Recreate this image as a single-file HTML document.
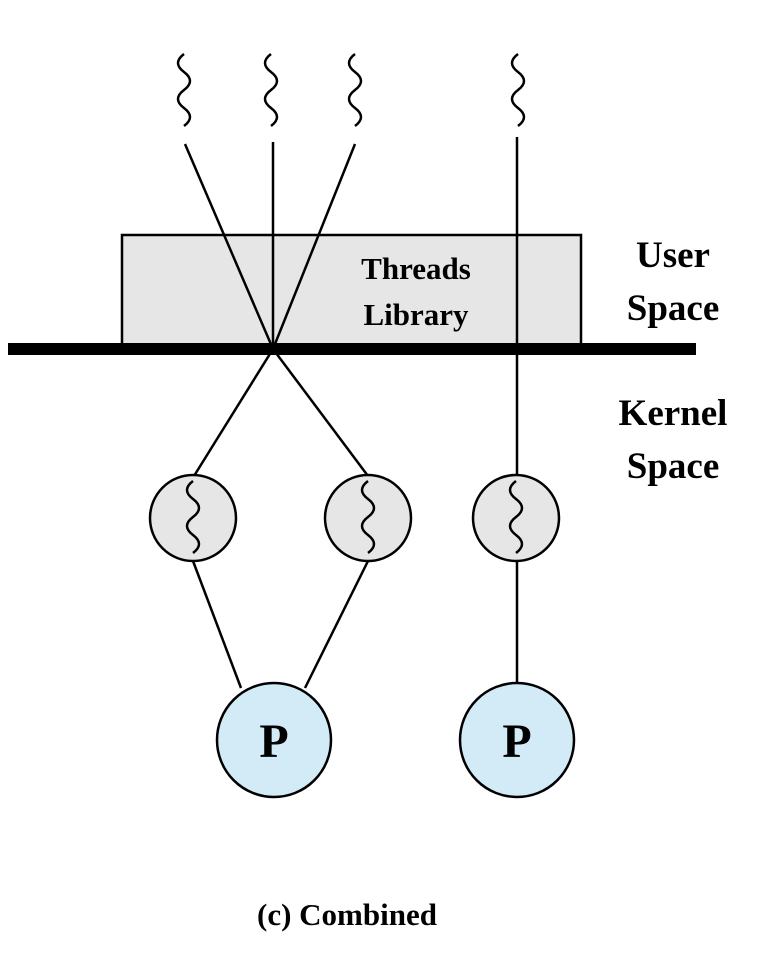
<!DOCTYPE html>
<html><head><meta charset="utf-8"><style>
html,body{margin:0;padding:0;background:#fff;}
svg{display:block;}
text{font-family:"Liberation Serif",serif;font-weight:bold;fill:#000;}
</style></head><body>
<svg width="782" height="962" viewBox="0 0 782 962" xmlns="http://www.w3.org/2000/svg">
<defs>
<path id="sq" d="M0,0 c-8,6 -8,12 0,18 c8,6 8,12 0,18 c-8,6 -8,12 0,18 c8,6 8,12 0,18" fill="none" stroke="#000" stroke-width="2.5"/>
</defs>
<rect x="122" y="235" width="459" height="110" fill="#e6e6e6" stroke="#000" stroke-width="2.5"/>
<text x="416" y="279" font-size="31" text-anchor="middle">Threads</text>
<text x="416" y="325" font-size="31" text-anchor="middle">Library</text>
<use href="#sq" x="184" y="54"/>
<use href="#sq" x="271" y="54"/>
<use href="#sq" x="355" y="54"/>
<use href="#sq" x="518" y="54"/>
<g stroke="#000" stroke-width="2.5" fill="none">
<line x1="185" y1="144" x2="273" y2="349"/>
<line x1="273" y1="142" x2="273" y2="349"/>
<line x1="355" y1="144" x2="273" y2="349"/>
<line x1="517" y1="137" x2="517" y2="683"/>
<line x1="273" y1="349" x2="194" y2="476"/>
<line x1="273" y1="349" x2="368" y2="476"/>
<line x1="193" y1="561" x2="241" y2="688"/>
<line x1="368" y1="561" x2="305" y2="688"/>
</g>
<rect x="8" y="343" width="688" height="12" fill="#000"/>
<g fill="#e6e6e6" stroke="#000" stroke-width="2.5">
<circle cx="193" cy="518" r="43"/>
<circle cx="368" cy="518" r="43"/>
<circle cx="516" cy="518" r="43"/>
</g>
<use href="#sq" x="193" y="481"/>
<use href="#sq" x="368" y="481"/>
<use href="#sq" x="516" y="481"/>
<g fill="#d3eaf7" stroke="#000" stroke-width="2.5">
<circle cx="274" cy="740" r="57"/>
<circle cx="517" cy="740" r="57"/>
</g>
<text x="274" y="757" font-size="48" text-anchor="middle">P</text>
<text x="517" y="757" font-size="48" text-anchor="middle">P</text>
<text x="673" y="267" font-size="37" text-anchor="middle">User</text>
<text x="673" y="320" font-size="37" text-anchor="middle">Space</text>
<text x="673" y="425" font-size="37" text-anchor="middle">Kernel</text>
<text x="673" y="478" font-size="37" text-anchor="middle">Space</text>
<text x="347" y="925" font-size="31" text-anchor="middle">(c) Combined</text>
</svg>
</body></html>
